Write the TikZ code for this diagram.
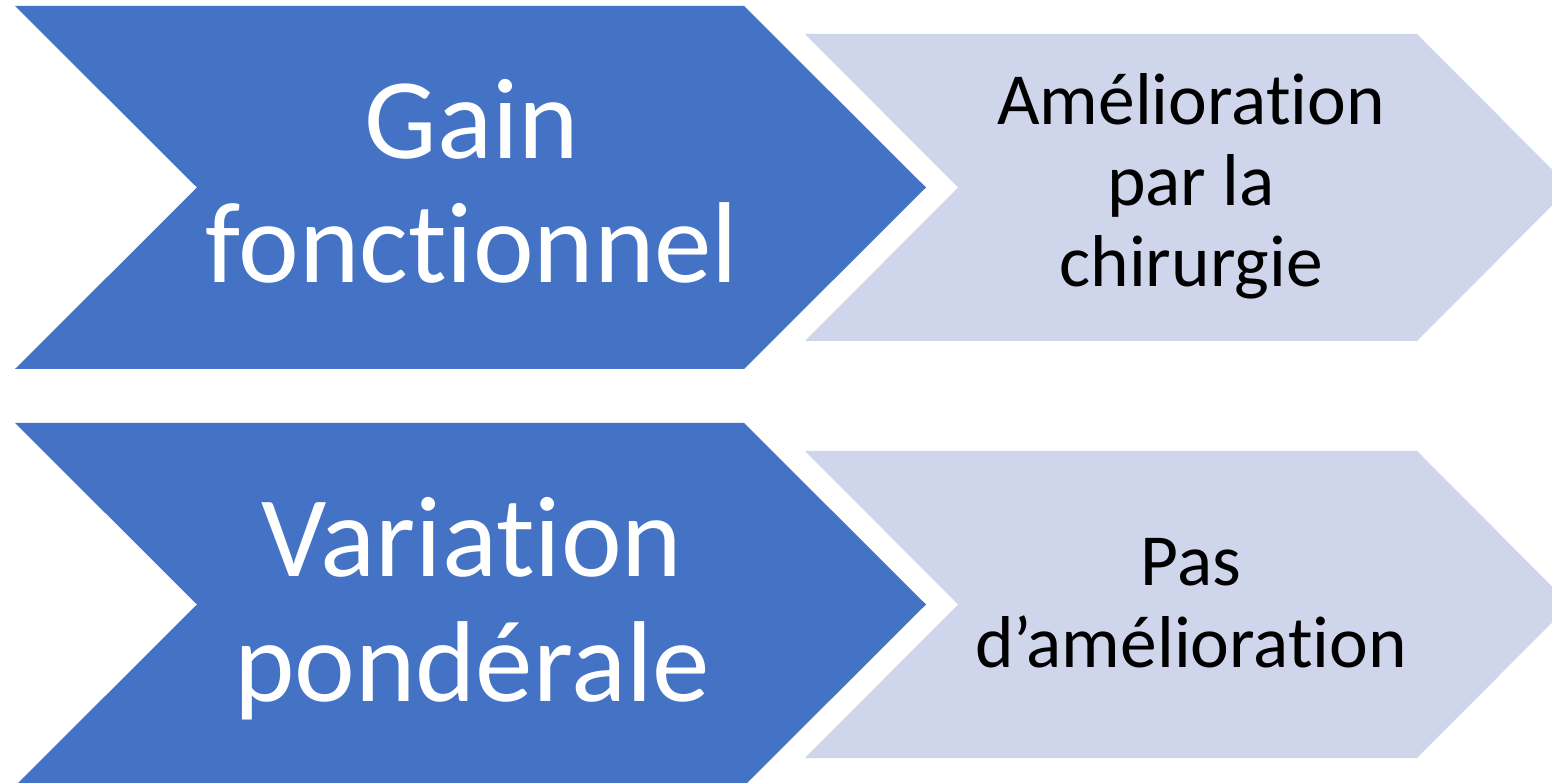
\documentclass[tikz,border=0pt]{standalone}
\usepackage{fontspec}
\setmainfont{Carlito}[Ligatures=NoCommon]
\usepackage{tikz}

\definecolor{darkblue}{HTML}{4472C4}
\definecolor{paleblue}{HTML}{CFD5EA}

\begin{document}
\begin{tikzpicture}
	[x=0.02cm, y=-0.02cm,
	dark arrow/.style={fill=darkblue},
	pale arrow/.style={fill=paleblue},
	dark text/.style={text=white, align=center, anchor=base, inner sep=0pt, font=\fontsize{65.5}{71.1}\selectfont},
	pale text/.style={text=black, align=center, anchor=base, inner sep=0pt, font=\fontsize{41.8}{46.2}\selectfont}]
	\clip (0,0) rectangle (1552,783);
	\fill[white] (0,0) rectangle (1552,783);

	% one row of chevrons per item
	\foreach \dy in {0, 417}{
		\fill[dark arrow] (15,6+\dy) -- (744,6+\dy) -- (926,187.5+\dy) -- (744,369+\dy)
			-- (15,369+\dy) -- (197,187.5+\dy) -- cycle;
		\fill[pale arrow] (805,34+\dy) -- (1417,34+\dy) -- (1570,187.5+\dy) -- (1417,341+\dy)
			-- (805,341+\dy) -- (958,187.5+\dy) -- cycle;
	}

	%texts
	\node[dark text] (gain) at (472,283) {Gain\\fonctionnel};
	\node[pale text] (amelio) at (1191,287) {Amélioration\\par la\\chirurgie};
	\node[dark text] (poids) at (472,701) {Variation\\pondérale};
	\node[pale text] (pasamelio) at (1191,667) {Pas\\d’amélioration};
\end{tikzpicture}
\end{document}
